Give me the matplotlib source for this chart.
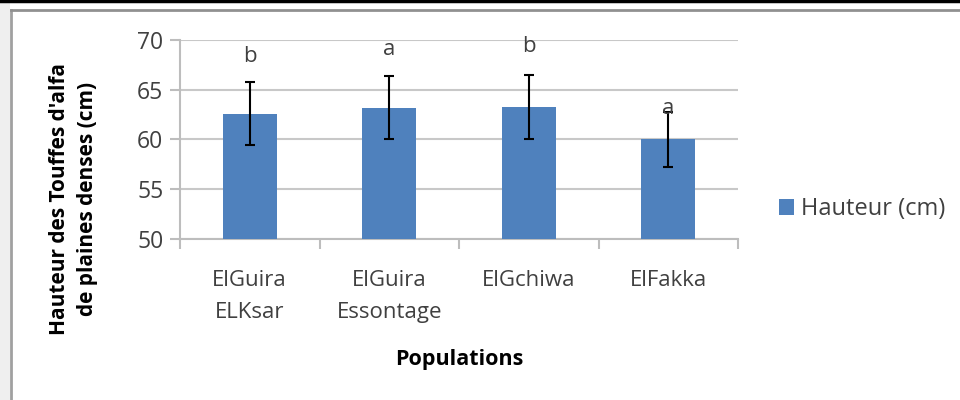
import numpy as np
import matplotlib
matplotlib.use('Agg')
import matplotlib.pyplot as plt
from matplotlib.patches import Rectangle
from matplotlib.lines import Line2D

# data
populations = ['ElGuira\nELKsar', 'ElGuira\nEssontage', 'ElGchiwa', 'ElFakka']
hauteur = [62.6, 63.2, 63.3, 60.0]
erreur = [3.2, 3.15, 3.2, 2.8]
lettres = ['b', 'a', 'b', 'a']
lettre_y = [68.3, 69.0, 69.3, 63.1]

plt.rcParams['font.family'] = ['Open Sans', 'DejaVu Sans']
txt = '#404040'

fig = plt.figure(figsize=(9.6, 4), dpi=100)

# frame of the chart area (like the office export)
fig.patches.append(Rectangle((0, 0), 10/960, 1, transform=fig.transFigure,
                             facecolor='#efefef', edgecolor='none', zorder=0))
fig.lines.append(Line2D([11/960, 11/960], [0, 390/400], transform=fig.transFigure,
                        color='#a0a0a0', lw=2))
fig.lines.append(Line2D([11/960, 1], [390/400, 390/400], transform=fig.transFigure,
                        color='#909090', lw=2))
fig.lines.append(Line2D([0, 1], [399/400, 399/400], transform=fig.transFigure,
                        color='black', lw=2.5))

ax = fig.add_axes([180/960, 161/400, 558/960, 199/400])
x = np.arange(len(populations))
ax.bar(x, hauteur, width=0.39, color='#4F81BD', zorder=3, label='Hauteur (cm)')
ax.errorbar(x, hauteur, yerr=erreur, fmt='none', ecolor='black', elinewidth=1.5,
            capsize=3.5, capthick=1.5, zorder=4)
for xi, l, ly in zip(x, lettres, lettre_y):
    ax.text(xi, ly, l, ha='center', va='center', fontsize=16, color=txt, zorder=5)

ax.set_xlim(-0.5, 3.5)
ax.set_ylim(50, 70)
ax.set_yticks([50, 55, 60, 65, 70])
ax.yaxis.grid(True, color='#c8c8c8', lw=1.5, zorder=0)
ax.set_xticks(x)
ax.set_xticklabels(populations, fontsize=16, color=txt, linespacing=1.7)
ax.set_xticks(np.arange(-0.5, 4, 1), minor=True)
ax.tick_params(axis='x', which='major', length=0, pad=22)
ax.tick_params(axis='x', which='minor', length=7, color='#bdbdbd', width=1.5)
ax.tick_params(axis='y', length=7, color='#bdbdbd', width=1.5, labelsize=16.5,
               labelcolor=txt, pad=5)
for s in ['top', 'right']:
    ax.spines[s].set_visible(False)
for s in ['left', 'bottom']:
    ax.spines[s].set_color('#bdbdbd')
    ax.spines[s].set_linewidth(1.5)

ax.set_xlabel('Populations', fontsize=15.5, fontweight='bold', color='black', labelpad=19)
ax.set_ylabel("Hauteur des Touffes d'alfa\nde plaines denses (cm)", fontsize=15,
              fontweight='bold', color='black', labelpad=28, linespacing=1.45)
ax.yaxis.label.set_y(0.2)

ax.legend(loc='center left', bbox_to_anchor=(1.035, 0.15), frameon=False, fontsize=17,
          handlelength=0.65, handleheight=0.65, handletextpad=0.3, labelcolor=txt)

fig.savefig('out.png', dpi=100)
